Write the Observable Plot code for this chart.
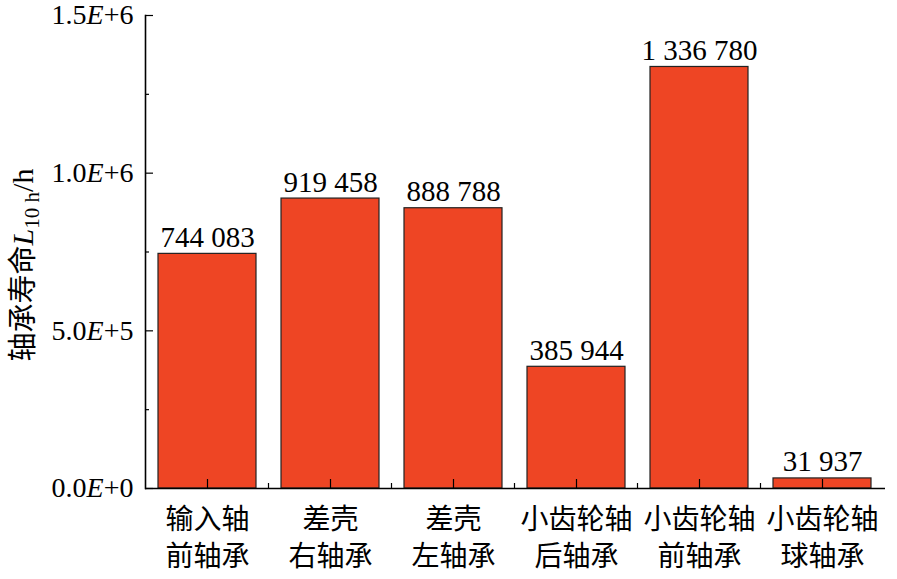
<!DOCTYPE html>
<html><head><meta charset="utf-8">
<script src="https://cdn.jsdelivr.net/npm/d3@7"></script>
<script src="https://cdn.jsdelivr.net/npm/@observablehq/plot@0.6"></script>
<style>
body{margin:0;background:#fff}
</style>
</head><body><div id="chart"></div>
<script>
const categories = ["输入轴\n前轴承","差壳\n右轴承","差壳\n左轴承","小齿轮轴\n后轴承","小齿轮轴\n前轴承","小齿轮轴\n球轴承"];
const lifeHours = [744083, 919458, 888788, 385944, 1336780, 31937];
const yTicks = [0, 5e5, 1e6, 1.5e6];
const yTickLabels = ["0.0E+0","5.0E+5","1.0E+6","1.5E+6"];
const yMinorTicks = [2.5e5, 7.5e5, 1.25e6];
const yLabelText = "轴承寿命L10 h/h";

const data = categories.map((c, i) => ({cat: c, v: lifeHours[i]}));
const fmt = v => d3.format(",")(v).replace(/,/g, " ");
const cjk = "Noto Sans CJK SC";
const serif = "Liberation Serif";

const plot = Plot.plot({
  width: 897, height: 579,
  marginLeft: 145, marginRight: 12, marginTop: 15, marginBottom: 91,
  style: "background: #fff; overflow: visible;",
  x: {domain: categories, paddingInner: 0.2, paddingOuter: 0.1, axis: null},
  y: {domain: [0, 1.5e6], axis: null},
  marks: [
    Plot.barY(data, {x: "cat", y: "v", fill: "#EE4524", stroke: "#222", strokeWidth: 1.2}),
    Plot.text(data, {x: "cat", y: "v", text: d => fmt(d.v), dy: -7, lineAnchor: "bottom", fontSize: 29, fontFamily: serif, fill: "#000"}),
    Plot.axisY({ticks: yTicks, tickSize: 0, tickPadding: 12, fontSize: 28, fontFamily: serif, tickFormat: d => yTickLabels[yTicks.indexOf(d)],
      label: yLabelText, labelAnchor: "center", labelArrow: "none", labelOffset: 134}),
    Plot.axisY({ticks: yTicks, tickSize: -8, fill: "none", label: null, strokeWidth: 1.2}),
    Plot.axisY({ticks: yMinorTicks, tickSize: -4, fill: "none", label: null, strokeWidth: 1.2}),
    Plot.axisX({tickSize: 0, tickPadding: 14, fontSize: 28, lineHeight: 1.32, fontFamily: cjk, label: null}),
    Plot.axisX({tickSize: -9, fill: "none", label: null, strokeWidth: 1.2}),
    Plot.ruleY([0], {strokeWidth: 1.6}),
    Plot.frame({anchor: "left", strokeWidth: 1.6})
  ]
});

const svg = d3.select(plot);
svg.attr("font-family", serif);
// italic E in y tick labels
svg.selectAll('g[aria-label="y-axis tick label"] text').each(function() {
  const t = d3.select(this);
  const s = t.text();
  const [a, b] = s.split("E");
  t.text(null).attr("font-family", serif);
  t.append("tspan").text(a);
  t.append("tspan").attr("font-style", "italic").text("E");
  t.append("tspan").text(b);
});
// y label with italic L and subscript
svg.selectAll('g[aria-label="y-axis label"] text').each(function() {
  const t = d3.select(this);
  t.text(null).attr("font-size", 30).attr("font-family", serif);
  const tr = t.attr("transform") || "";
  t.attr("transform", tr + " translate(-13,0)");
  t.append("tspan").attr("font-family", cjk).attr("font-size", 29).text("轴承寿命");
  t.append("tspan").attr("font-style", "italic").text("L");
  t.append("tspan").attr("font-size", 21).attr("dy", "0.3em").text("10 h");
  t.append("tspan").attr("dy", "-0.21em").text("/h");
});
// minor x ticks between bands
const xs = plot.scale("x"), ys = plot.scale("y");
const y0 = ys.apply(0);
for (let i = 1; i < categories.length; i++) {
  const pos = (xs.apply(categories[i - 1]) + xs.bandwidth + xs.apply(categories[i])) / 2;
  svg.append("line").attr("x1", pos).attr("x2", pos).attr("y1", y0).attr("y2", y0 - 5)
    .attr("stroke", "#000").attr("stroke-width", 1.2);
}
document.getElementById("chart").appendChild(plot);
</script>
</body></html>
